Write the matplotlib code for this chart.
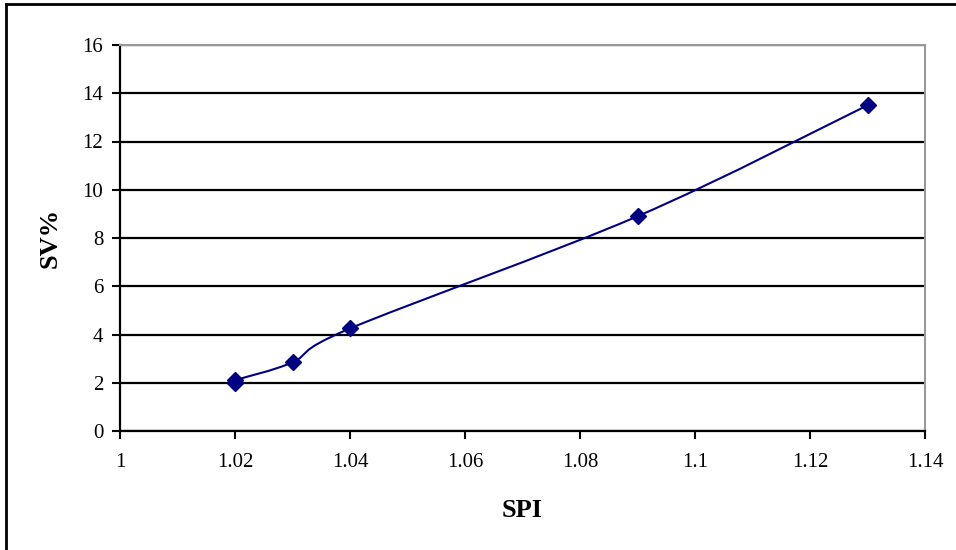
import matplotlib
matplotlib.use("Agg")
import matplotlib.pyplot as plt
from matplotlib.path import Path
from matplotlib.patches import PathPatch
from matplotlib.lines import Line2D

# SPI against SV% readings
spi = [1.02, 1.02, 1.03, 1.04, 1.09, 1.13]
sv_pct = [2.0, 2.1, 2.85, 4.25, 8.9, 13.5]

x_ticks = [1, 1.02, 1.04, 1.06, 1.08, 1.1, 1.12, 1.14]
x_tick_labels = ["1", "1.02", "1.04", "1.06", "1.08", "1.1", "1.12", "1.14"]
y_ticks = [0, 2, 4, 6, 8, 10, 12, 14, 16]

NAVY = "#000080"
plt.rcParams["font.family"] = ["Liberation Serif", "DejaVu Serif"]


def smooth_path(xs, ys):
    """Cubic Bezier through the points, Catmull-Rom style tangents."""
    pts = list(zip(xs, ys))
    verts = [pts[0]]
    codes = [Path.MOVETO]
    n = len(pts)
    for i in range(n - 1):
        p0 = pts[i - 1] if i > 0 else pts[i]
        p1 = pts[i]
        p2 = pts[i + 1]
        p3 = pts[i + 2] if i + 2 < n else pts[i + 1]
        c1 = (p1[0] + (p2[0] - p0[0]) / 6, p1[1] + (p2[1] - p0[1]) / 6)
        c2 = (p2[0] - (p3[0] - p1[0]) / 6, p2[1] - (p3[1] - p1[1]) / 6)
        verts += [c1, c2, p2]
        codes += [Path.CURVE4] * 3
    return Path(verts, codes)


fig = plt.figure(figsize=(9.56, 5.5), dpi=100)
ax = fig.add_axes([120 / 956, 1 - 431 / 550, 805 / 956, 386 / 550])

ax.set_xlim(1, 1.14)
ax.set_ylim(0, 16)
ax.set_xticks(x_ticks)
ax.set_xticklabels(x_tick_labels)
ax.set_yticks(y_ticks)

ax.grid(axis="y", color="black", linewidth=1.6, zorder=1)
ax.set_axisbelow(True)

ax.add_patch(PathPatch(smooth_path(spi, sv_pct), facecolor="none",
                       edgecolor=NAVY, linewidth=1.5, zorder=3))
ax.plot(spi, sv_pct, linestyle="none", marker="D", markersize=8.5,
        color=NAVY, zorder=4)

for side in ("top", "right"):
    ax.spines[side].set_color("#999999")
    ax.spines[side].set_linewidth(1.5)
for side in ("left", "bottom"):
    ax.spines[side].set_color("black")
    ax.spines[side].set_linewidth(1.6)

ax.tick_params(axis="both", direction="out", length=6, width=1.5,
               labelsize=15, colors="black")
ax.tick_params(axis="x", pad=10)
ax.tick_params(axis="y", pad=6)

ax.set_xlabel("SPI", fontsize=19, fontweight="bold", labelpad=19)
ax.set_ylabel("SV%", fontsize=19, fontweight="bold", labelpad=15)

# chart frame, left and top edges
fig.add_artist(Line2D([5.5 / 956, 5.5 / 956], [0, 1 - 4 / 550],
                      transform=fig.transFigure, color="black", linewidth=2))
fig.add_artist(Line2D([5.5 / 956, 1], [1 - 4 / 550, 1 - 4 / 550],
                      transform=fig.transFigure, color="black", linewidth=2))

fig.savefig("out.png", dpi=100)
